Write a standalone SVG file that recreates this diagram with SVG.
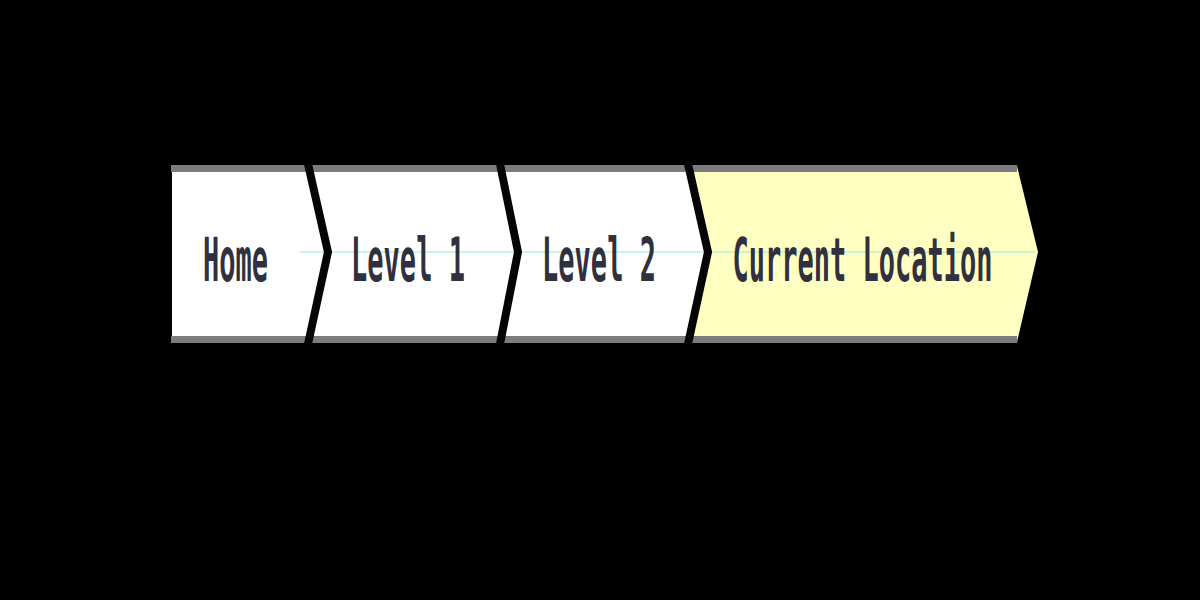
<svg xmlns="http://www.w3.org/2000/svg" width="1200" height="600" viewBox="0 0 1200 600">
  <style>
    .crumb { fill: #ffffff; }
    .current { fill: #ffffc2; }
    .band { fill: #7c7c7c; }
    .sep { fill: none; stroke: #050505; stroke-width: 8; stroke-linejoin: miter; }
    .label { font-family: "DejaVu Sans Mono", "Liberation Mono", monospace; font-size: 60px; font-weight: bold; fill: #30303e; text-anchor: middle; }
    .conn { stroke: #b6f3d8; stroke-width: 1.5; fill: none; }
  </style>
  <rect x="0" y="0" width="1200" height="600" fill="#000000"/>

  <g id="node-home">
    <polygon class="crumb" points="172,166 308,166 328,252 308,342 172,342"/>
    <rect class="band" x="171" y="165" width="137" height="7"/>
    <rect class="band" x="171" y="336" width="137" height="7"/>
  </g>
  <g id="node-level1">
    <polygon class="crumb" points="308,166 500,166 518,252 500,342 308,342 328,252"/>
    <rect class="band" x="308" y="165" width="192" height="7"/>
    <rect class="band" x="308" y="336" width="192" height="7"/>
  </g>
  <g id="node-level2">
    <polygon class="crumb" points="500,166 688,166 708,252 688,342 500,342 518,252"/>
    <rect class="band" x="500" y="165" width="188" height="7"/>
    <rect class="band" x="500" y="336" width="188" height="7"/>
  </g>
  <g id="node-current">
    <polygon class="current" points="688,166 1017,166 1038,252 1017,342 688,342 708,252"/>
    <rect class="band" x="688" y="165" width="329" height="7"/>
    <rect class="band" x="688" y="336" width="329" height="7"/>
  </g>

  <g id="connectors">
    <line class="conn" x1="300" y1="252" x2="1036" y2="252"/>
    <polyline class="sep" points="308,164 328,252 308,344"/>
    <polyline class="sep" points="500,164 518,252 500,344"/>
    <polyline class="sep" points="688,164 708,252 688,344"/>
  </g>

  <g id="labels">
    <text class="label" transform="translate(235.5,281) scale(0.45,1)">Home</text>
    <text class="label" transform="translate(408,281) scale(0.45,1)">Level 1</text>
    <text class="label" transform="translate(599,281) scale(0.45,1)">Level 2</text>
    <text class="label" transform="translate(862.5,281) scale(0.45,1)">Current Location</text>
  </g>
</svg>
